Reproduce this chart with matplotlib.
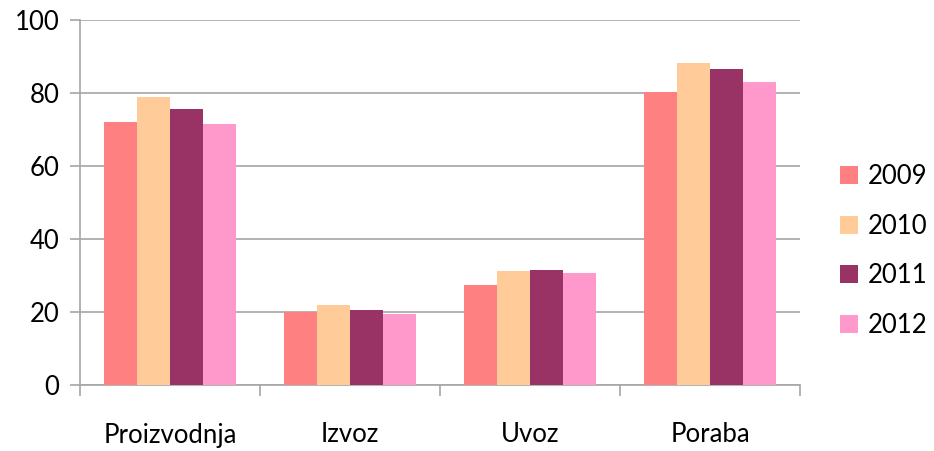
import matplotlib
matplotlib.use("Agg")
import matplotlib.pyplot as plt
import numpy as np

categories = ["Proizvodnja", "Izvoz", "Uvoz", "Poraba"]
years = ["2009", "2010", "2011", "2012"]
v2009 = [72.1, 20.0, 27.5, 80.2]
v2010 = [78.8, 22.0, 31.3, 88.2]
v2011 = [75.5, 20.6, 31.6, 86.5]
v2012 = [71.4, 19.5, 30.8, 83.0]
series = [v2009, v2010, v2011, v2012]
colors = ["#FF8080", "#FFCC99", "#993366", "#FF99CC"]
yticks = [0, 20, 40, 60, 80, 100]

plt.rcParams['font.family'] = ['Lato', 'DejaVu Sans']
FS = 18.5

fig = plt.figure(figsize=(9.34, 4.51), dpi=100)
ax = fig.add_axes([80/934, (451-385)/451, 720/934, 365/451])

x = np.arange(len(categories))
w = 0.182
for i, (vals, c, lab) in enumerate(zip(series, colors, years)):
    ax.bar(x + (i - 1.5) * w, vals, width=w, color=c, label=lab, zorder=3)

ax.set_xlim(-0.5, 3.5)
ax.set_ylim(0, 100)
ax.set_yticks(yticks)
ax.set_yticklabels([str(t) for t in yticks], fontsize=FS)
ax.yaxis.grid(True, color="#A6A6A6", linewidth=1.2, zorder=0)

ax.set_xticks(x)
ax.set_xticklabels(categories, fontsize=FS)
ax.set_xticks(np.arange(-0.5, 4.0, 1.0), minor=True)
ax.tick_params(axis='x', which='major', length=0, pad=27)
ax.tick_params(axis='x', which='minor', length=8, color="#A6A6A6", width=1.2)
ax.tick_params(axis='y', length=7, color="#A6A6A6", width=1.2, pad=8)

for s in ["top", "right"]:
    ax.spines[s].set_visible(False)
for s in ["left", "bottom"]:
    ax.spines[s].set_color("#A6A6A6")
    ax.spines[s].set_linewidth(1.2)

leg = ax.legend(loc="center left", bbox_to_anchor=(1.024, 0.367), frameon=False,
                fontsize=FS, handlelength=0.7, handleheight=0.7,
                labelspacing=0.95, handletextpad=0.35)

fig.savefig("out.png", dpi=100)
